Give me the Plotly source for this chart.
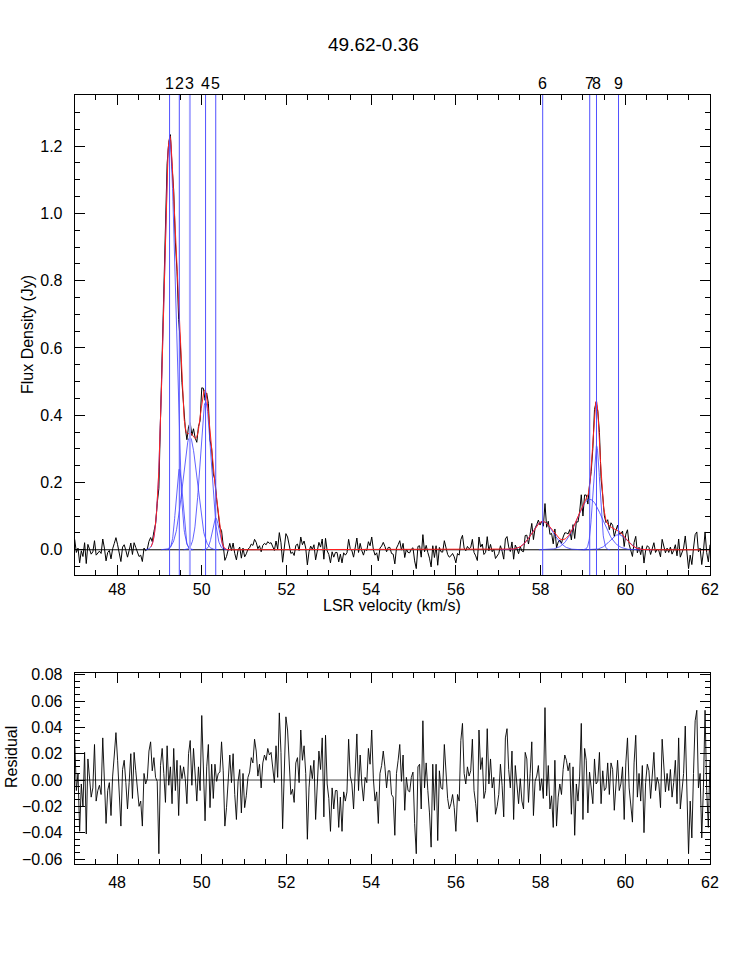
import numpy as np
import plotly.graph_objects as go

# Gaussian fit components: peak (Jy), centre (km/s), sigma (km/s)
comp_id = ["1", "2", "3", "4", "5", "6", "7", "8", "9"]
comp_amp = [1.22, 0.24, 0.335, 0.44, 0.095, 0.084, 0.15, 0.31, 0.045]
comp_vel = [49.24, 49.47, 49.72, 50.09, 50.33, 58.05, 59.16, 59.32, 59.84]
comp_sig = [0.14, 0.08, 0.17, 0.13, 0.08, 0.25, 0.30, 0.08, 0.20]

# residual (mJy) per channel, 47 -> 62 km/s
residual_mjy = [
    31, -8, 5, -39, -3, -20, 21, -41, 16, 2,
    -13, -6, 27, -16, -8, -4, -11, 32, 5, -33,
    -8, -2, -27, 3, 19, 36, 15, -16, -35, 8,
    15, -2, -22, -2, 20, -14, 21, 7, -6, -20,
    -16, -35, 5, -3, 1, 22, 29, 7, 17, 2,
    -1, -56, 11, 24, 5, -17, 26, -4, 10, -18,
    24, -8, 15, -27, 11, 1, 10, 1, -18, 20,
    30, -4, 24, 2, -16, 10, -8, 49, 15, -31,
    10, 27, -21, 12, -14, 12, -1, 5, 6, 29,
    7, -35, -21, -2, 19,
    -2, 20, -11, -30, -1, 8, -25, 5, -21, -12,
    2, 6, 17, 13, 31, 22, 3, 12, -6, 13,
    19, 15, 24, 19, 21, 11, -2, 26, 2, 51,
    21, -37, 6, 48, 38, 10, -11, -7, -17, 13,
    17, -2, 38, 15, 26, 5, -45, -6, 11, 1,
    15, -30, -6, 22, 8, 32, -28, 34, -3, -14,
    -39, -6, -22, -8, -8, -36, -13, -39, -9, -16,
    -9, 31, 3, -3, -22, 10, 35, -8, 19, -3,
    -16, 2, -2, 24, 12, 38, 1, -16, -9, -33,
    5, 11, 22, 10, -6, 7,
    7, -11, -13, -42, 5, 15, 27, -1, 19, -23,
    2, -8, -9, 2, 6, -33, -56, 10, 12, -22,
    45, -6, 13, -8, -25, -51, 12, -23, 12, -46,
    7, -6, -7, 27, 3, -14, -22, -18, -11, -21,
    -39, -11, -16, 30, 43, 5, -3, 10, 3, 7,
    31, -8, -18, -32, 38, 8, 17, -14, -8, 39,
    -3, 16, -6, 2, -26, -20, -11, 12, -4, -28,
    32, 39, 8, -6, 22, -30, 11, -1, -18, 1,
    -16, -22, 21, 16, -17, 5, 29, -27, -1, 3,
    11, -8, 1, -14, 55, -12, 11, -22, -12, -36,
    15, -35, -13, -3, -11, 8, 19, 15, 7, 13,
    -26, 10, -42, -3, -16, 3, 43, -30, 24, 15,
    -25, 6, -8, -18, 16, -3, -1, 21, -18, 7,
    -8, -6, 13, -11, 13, 8, -23, -3, 15, -8,
    -3, 10, -30, 13, 32, -6, -18, -32, 13, 34,
    -13, 5, -16, 11, -40, -2, 12, 7, -14, 6,
    21, -8, 2, -3, -21, 31, 7, -9, 5, -8,
    8, -13, -2, 15, -18, 32, -22, -6, 5, 41,
    -14, -56, -16, -44, 5, 45, 53, -6, 5, -44,
    -6, 53, -8, -36, 15,
]

vel_min, vel_max = 47.0, 62.0
fit_start = 48.8

vel = np.linspace(vel_min, vel_max, len(residual_mjy))
resid = np.array(residual_mjy) / 1000.0


def gauss(v, a, c, s):
    return a * np.exp(-0.5 * ((v - c) / s) ** 2)


def model(v):
    return sum(gauss(v, a, c, s) for a, c, s in zip(comp_amp, comp_vel, comp_sig))


flux = model(vel) + resid

W, H = 747, 961


def fx(px):
    return px / W


def fy(py):
    return 1 - py / H


fig = go.Figure()

# top panel
fig.add_trace(go.Scatter(x=[vel_min, vel_max], y=[0, 0], mode="lines",
                         line=dict(color="black", width=1), xaxis="x", yaxis="y"))
fig.add_trace(go.Scatter(x=vel, y=flux, mode="lines",
                         line=dict(color="black", width=1), xaxis="x", yaxis="y"))
for a, c, s in zip(comp_amp, comp_vel, comp_sig):
    vv = np.linspace(c - 4 * s, c + 4 * s, 120)
    fig.add_trace(go.Scatter(x=vv, y=gauss(vv, a, c, s), mode="lines",
                             line=dict(color="#3a3aff", width=0.8),
                             xaxis="x", yaxis="y"))
vfit = np.linspace(fit_start, vel_max, 3000)
fig.add_trace(go.Scatter(x=vfit, y=model(vfit), mode="lines",
                         line=dict(color="#ff2020", width=1), xaxis="x", yaxis="y"))

# bottom panel
fig.add_trace(go.Scatter(x=[vel_min, vel_max], y=[0, 0], mode="lines",
                         line=dict(color="#444444", width=1), xaxis="x2", yaxis="y2"))
fig.add_trace(go.Scatter(x=vel, y=resid, mode="lines",
                         line=dict(color="black", width=0.9), xaxis="x2", yaxis="y2"))

# component markers
shapes = []
annotations = []
for i, c in zip(comp_id, comp_vel):
    light = i == "3"
    shapes.append(dict(type="line", xref="x", yref="y domain", x0=c, x1=c, y0=0, y1=1,
                       line=dict(color="#a8a8ff" if light else "#5050ff",
                                 width=2 if light else 1)))
    annotations.append(dict(x=c, y=fy(95), xref="x", yref="paper", text=i,
                            showarrow=False, xanchor="center", yanchor="bottom",
                            yshift=1, font=dict(size=16, color="black")))

annotations += [
    dict(x=fx(373), y=fy(45), xref="paper", yref="paper", text="49.62-0.36",
         xanchor="center", yanchor="middle", showarrow=False,
         font=dict(size=19, color="black")),
    dict(x=fx(392), y=fy(605), xref="paper", yref="paper",
         text="LSR velocity (km/s)", xanchor="center", yanchor="middle",
         showarrow=False, font=dict(size=16, color="black")),
    dict(x=fx(27), y=fy(335), xref="paper", yref="paper",
         text="Flux Density (Jy)", textangle=-90, xanchor="center", yanchor="middle",
         showarrow=False, font=dict(size=16, color="black")),
    dict(x=fx(11), y=fy(757), xref="paper", yref="paper",
         text="Residual", textangle=-90, xanchor="center", yanchor="middle",
         showarrow=False, font=dict(size=16, color="black")),
]

xax = dict(range=[vel_min, vel_max], dtick=2, tick0=0, ticks="inside", ticklen=10,
           tickcolor="black", showline=True, linecolor="black", linewidth=1,
           mirror="allticks", showgrid=False, zeroline=False, automargin=False,
           tickfont=dict(size=16, color="black"),
           minor=dict(dtick=0.5, tick0=0, ticks="inside", ticklen=5, tickcolor="black"),
           domain=[fx(74.7), fx(710)])

yax = dict(ticks="inside", ticklen=10, tickcolor="black", showline=True,
           linecolor="black", linewidth=1, mirror="allticks", showgrid=False,
           zeroline=False, automargin=False, ticklabelstandoff=8,
           tickfont=dict(size=16, color="black"))

fig.update_layout(
    width=W, height=H,
    margin=dict(l=0, r=0, t=0, b=0),
    paper_bgcolor="white", plot_bgcolor="white",
    showlegend=False,
    font=dict(family="Liberation Sans, Arial, sans-serif", color="black"),
    xaxis=dict(xax, anchor="y"),
    yaxis=dict(yax, range=[-0.075, 1.352], dtick=0.2, tick0=0, tickformat=".1f",
               minor=dict(dtick=0.05, tick0=0, ticks="inside", ticklen=5,
                          tickcolor="black"),
               domain=[fy(575), fy(95)], anchor="x"),
    xaxis2=dict(xax, anchor="y2", ticklabelstandoff=4),
    yaxis2=dict(yax, range=[-0.0638, 0.0813], dtick=0.02, tick0=0, tickformat=".2f",
                minor=dict(dtick=0.005, tick0=0, ticks="inside", ticklen=5,
                           tickcolor="black"),
                domain=[fy(864), fy(673)], anchor="x2"),
    shapes=shapes,
    annotations=annotations,
)

fig.write_html("out.html", config={"displayModeBar": False},
               post_script="document.body.style.margin='0';")
